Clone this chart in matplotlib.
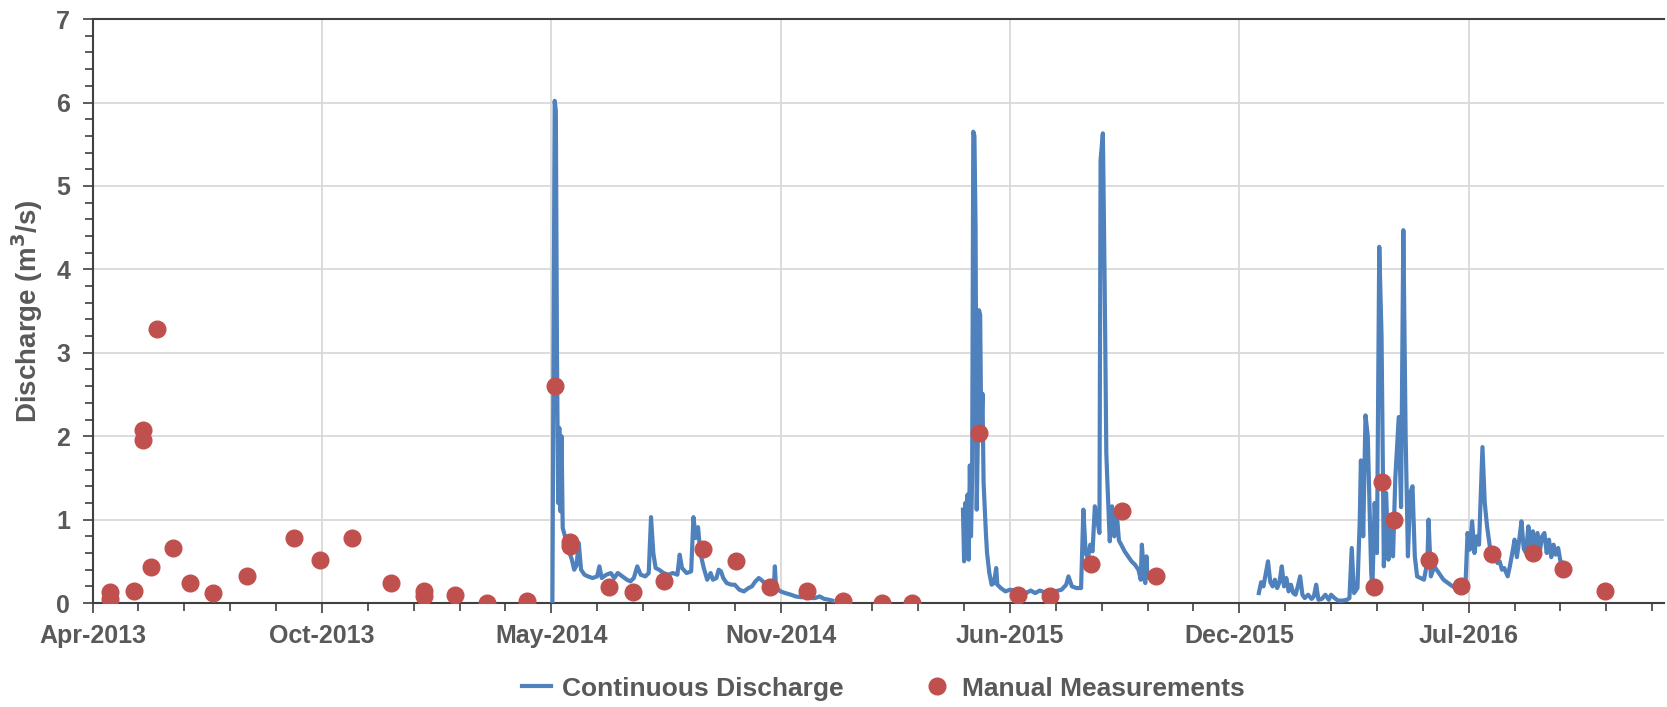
import numpy as np
import matplotlib.pyplot as plt
import matplotlib.dates as mdates
from matplotlib.ticker import MultipleLocator

plt.rcParams['font.family'] = ['Liberation Sans', 'DejaVu Sans']

START = np.datetime64('2013-04-01')
END = np.datetime64('2016-12-31')

# manual gaugings
manual_dates = ['2013-04-16', '2013-04-16', '2013-05-07', '2013-05-15', '2013-05-15',
                '2013-05-22', '2013-05-27', '2013-06-10', '2013-06-25', '2013-07-15',
                '2013-08-14', '2013-09-24', '2013-10-16', '2013-11-13', '2013-12-17',
                '2014-01-15', '2014-01-15', '2014-02-11', '2014-03-11', '2014-04-15',
                '2014-05-09', '2014-05-22', '2014-05-22', '2014-06-25', '2014-07-16',
                '2014-08-12', '2014-09-15', '2014-10-14', '2014-11-13', '2014-12-15',
                '2015-01-15', '2015-02-18', '2015-03-17', '2015-05-14', '2015-06-17',
                '2015-07-15', '2015-08-20', '2015-09-16', '2015-10-15', '2016-04-22',
                '2016-04-29', '2016-05-10', '2016-06-09', '2016-07-07', '2016-08-03',
                '2016-09-08', '2016-10-04', '2016-11-10']
manual_q = [0.13, 0.05, 0.15, 2.07, 1.96,
            0.43, 3.29, 0.66, 0.24, 0.12,
            0.32, 0.78, 0.52, 0.78, 0.24,
            0.15, 0.09, 0.10, 0.00, 0.02,
            2.60, 0.73, 0.68, 0.19, 0.13,
            0.27, 0.65, 0.51, 0.19, 0.14,
            0.03, 0.00, 0.00, 2.04, 0.10,
            0.09, 0.47, 1.10, 0.33, 0.19,
            1.45, 0.99, 0.52, 0.20, 0.59,
            0.60, 0.41, 0.15]

# continuous record, days counted from START (three logger deployments)
seg1_day = [401, 403, 404, 405, 406, 407, 408, 409, 410, 412, 414, 416, 418, 420, 422, 424,
            426, 429, 432, 436, 440, 442, 444, 448, 452, 455, 458, 462, 466, 469, 472, 475,
            478, 482, 485, 487, 489, 491, 494, 498, 502, 506, 510, 512, 514, 518, 522, 524,
            526, 528, 530, 533, 536, 539, 541, 544, 546, 548, 550, 553, 557, 560, 564, 568,
            572, 575, 578, 581, 583, 586, 590, 594, 595, 596, 600, 604, 609, 613, 618, 622,
            626, 630, 634, 638, 642, 645]
seg1_q = [0.00, 6.02, 5.90, 3.00, 1.20, 2.10, 1.10, 2.00, 0.90, 0.80, 0.72, 0.60, 0.52, 0.40, 0.45, 0.72,
          0.40, 0.34, 0.32, 0.30, 0.32, 0.44, 0.30, 0.34, 0.36, 0.30, 0.36, 0.32, 0.28, 0.26, 0.30, 0.44,
          0.34, 0.32, 0.36, 1.03, 0.60, 0.42, 0.40, 0.36, 0.34, 0.36, 0.34, 0.58, 0.42, 0.36, 0.38, 1.03,
          0.78, 0.91, 0.60, 0.42, 0.28, 0.36, 0.28, 0.30, 0.40, 0.38, 0.30, 0.24, 0.22, 0.22, 0.16, 0.14,
          0.18, 0.20, 0.26, 0.30, 0.28, 0.24, 0.20, 0.16, 0.44, 0.18, 0.14, 0.12, 0.10, 0.08, 0.07, 0.08,
          0.06, 0.06, 0.08, 0.05, 0.04, 0.03]

seg2_day = [759, 760, 761, 762, 763, 764, 765, 766, 767, 768, 769, 770, 771, 772, 773, 774,
            775, 776, 777, 779, 780, 782, 784, 786, 788, 789, 792, 796, 800, 805, 810, 814,
            818, 822, 826, 830, 834, 838, 842, 845, 849, 851, 854, 858, 862, 864, 866, 868,
            870, 872, 874, 876, 878, 879, 881, 882, 883, 884, 885, 887, 889, 891, 893, 895,
            897, 900, 903, 906, 909, 912, 914, 915, 917, 918, 919, 920, 921]
seg2_q = [1.12, 0.50, 1.20, 0.55, 1.30, 0.52, 1.65, 0.80, 1.50, 5.65, 5.60, 4.50, 1.12, 2.00, 3.51, 3.45,
          2.00, 2.51, 1.44, 0.84, 0.60, 0.36, 0.22, 0.24, 0.42, 0.22, 0.18, 0.14, 0.16, 0.15, 0.13, 0.12,
          0.15, 0.12, 0.15, 0.13, 0.15, 0.13, 0.15, 0.16, 0.22, 0.32, 0.20, 0.18, 0.18, 1.12, 0.60, 0.54,
          0.70, 0.62, 1.16, 1.00, 0.84, 5.31, 5.63, 4.50, 3.24, 1.80, 1.43, 0.74, 1.16, 0.80, 1.10, 0.75,
          0.70, 0.62, 0.56, 0.50, 0.46, 0.40, 0.28, 0.70, 0.30, 0.24, 0.56, 0.30, 0.32]

seg3_day = [1017, 1019, 1021, 1023, 1025, 1027, 1029, 1031, 1033, 1035, 1037, 1039, 1041, 1043, 1045, 1047,
            1049, 1051, 1053, 1055, 1057, 1060, 1063, 1065, 1067, 1069, 1072, 1075, 1078, 1080, 1083, 1086,
            1090, 1094, 1096, 1098, 1100, 1103, 1105, 1106, 1108, 1110, 1112, 1114, 1115, 1116, 1118, 1120,
            1122, 1124, 1126, 1128, 1130, 1132, 1134, 1136, 1139, 1141, 1143, 1145, 1147, 1149, 1151, 1153,
            1155, 1158, 1161, 1164, 1165, 1167, 1170, 1174, 1178, 1182, 1186, 1190, 1194, 1197, 1199, 1201,
            1203, 1205, 1207, 1209, 1212, 1214, 1216, 1219, 1221, 1223, 1225, 1227, 1229, 1231, 1234, 1236,
            1238, 1240, 1242, 1244, 1246, 1248, 1250, 1252, 1254, 1256, 1258, 1260, 1262, 1264, 1266, 1268,
            1270, 1272, 1274, 1276, 1278, 1280, 1282]
seg3_q = [0.12, 0.25, 0.20, 0.35, 0.50, 0.25, 0.20, 0.28, 0.18, 0.25, 0.44, 0.20, 0.30, 0.14, 0.22, 0.12,
          0.10, 0.20, 0.32, 0.10, 0.06, 0.10, 0.05, 0.08, 0.22, 0.04, 0.05, 0.10, 0.04, 0.10, 0.06, 0.03,
          0.03, 0.04, 0.06, 0.66, 0.12, 0.18, 1.00, 1.71, 0.80, 2.25, 2.00, 0.90, 0.36, 0.18, 1.20, 0.60,
          4.27, 3.20, 0.44, 1.32, 0.52, 1.04, 0.56, 1.50, 2.23, 1.15, 4.47, 2.00, 0.56, 1.32, 1.40, 0.56,
          0.32, 0.30, 0.28, 0.50, 1.00, 0.32, 0.44, 0.36, 0.28, 0.24, 0.20, 0.18, 0.16, 0.16, 0.84, 0.64,
          0.98, 0.60, 0.80, 0.70, 1.87, 1.20, 0.92, 0.62, 0.55, 0.58, 0.48, 0.50, 0.40, 0.42, 0.32, 0.45,
          0.60, 0.76, 0.55, 0.75, 0.98, 0.65, 0.60, 0.92, 0.70, 0.86, 0.65, 0.84, 0.62, 0.80, 0.84, 0.60,
          0.76, 0.55, 0.70, 0.58, 0.66, 0.50, 0.48]

LINE_C = '#4F81BD'
DOT_C = '#C0504D'
TXT_C = '#595959'
AX_C = '#404040'


def to_dates(days):
    return START + np.array(days).astype('timedelta64[D]')


fig = plt.figure(figsize=(16.67, 7.07), dpi=100)
ax = fig.add_axes([0.0555, 0.147, 0.9425, 0.826])

first = True
for d, q in [(seg1_day, seg1_q), (seg2_day, seg2_q), (seg3_day, seg3_q)]:
    ax.plot(to_dates(d), q, color=LINE_C, lw=3.0, zorder=3,
            label='Continuous Discharge' if first else None)
    first = False

ax.plot(np.array(manual_dates, dtype='datetime64[D]'), manual_q, 'o', ls='none',
        color=DOT_C, ms=12, zorder=4, label='Manual Measurements')

ax.set_xlim(START, END)
ax.set_ylim(0, 7)
major = START + np.arange(0, 1370, 200).astype('timedelta64[D]')
minor = START + np.arange(0, 1370, 40).astype('timedelta64[D]')
ax.set_xticks(major)
ax.set_xticks(minor, minor=True)
ax.xaxis.set_major_formatter(mdates.DateFormatter('%b-%Y'))
ax.yaxis.set_major_locator(MultipleLocator(1))
ax.yaxis.set_minor_locator(MultipleLocator(0.2))

ax.grid(True, which='major', color='#D9D9D9', lw=1.3, zorder=0)
ax.set_axisbelow(True)

for s in ['left', 'bottom', 'top']:
    ax.spines[s].set_color(AX_C)
    ax.spines[s].set_linewidth(1.5)
ax.spines['right'].set_visible(False)

ax.tick_params(axis='both', which='both', direction='out', colors=AX_C, width=1.2,
               labelcolor=TXT_C, labelsize=18)
ax.tick_params(axis='both', which='major', length=7)
ax.tick_params(axis='both', which='minor', length=6)
ax.tick_params(axis='x', pad=8)
ax.tick_params(axis='y', pad=9)
for lab in ax.get_xticklabels() + ax.get_yticklabels():
    lab.set_fontweight('bold')

ax.set_ylabel('Discharge (m$^\\mathbf{3}$/s)', fontsize=20, fontweight='bold', color=TXT_C,
              labelpad=8)

leg = fig.legend(loc='center', bbox_to_anchor=(0.53, 0.026), ncol=2, frameon=False,
                 handlelength=1.1, handletextpad=0.4, columnspacing=3.0,
                 prop={'size': 19, 'weight': 'bold'})
for t in leg.get_texts():
    t.set_color(TXT_C)

fig.savefig('out.png', dpi=100)
